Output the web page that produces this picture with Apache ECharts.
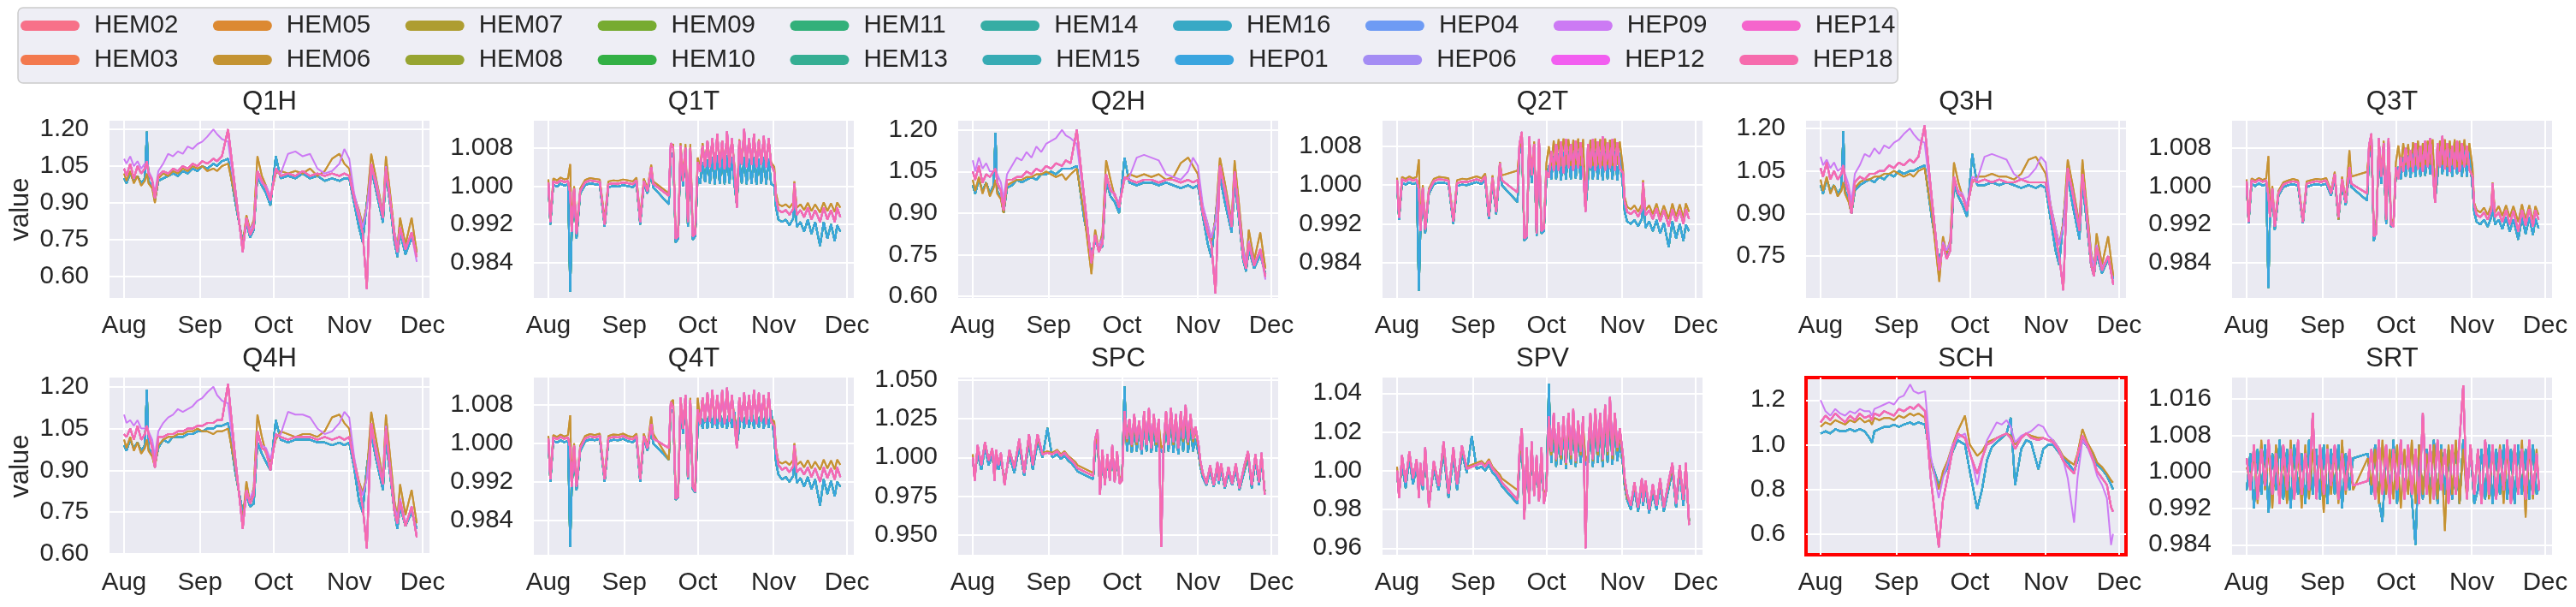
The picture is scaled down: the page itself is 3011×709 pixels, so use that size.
<!DOCTYPE html>
<html lang="en">
<head>
<meta charset="UTF-8" />
<title>Document</title>
<script src="https://cdn.jsdelivr.net/npm/echarts@6/dist/echarts.min.js"></script>
</head>
<body style="margin:0;background:#fff">
<div id="main" style="width:3011px;height:709px;"></div>
<script>
// ---- series names (legend order of the source) and their colours ----
var names = ['HEM02','HEM03','HEM05','HEM06','HEM07','HEM08','HEM09','HEM10','HEM11','HEM13',
             'HEM14','HEM15','HEM16','HEP01','HEP04','HEP06','HEP09','HEP12','HEP14','HEP18'];
var palette = ['#f77189','#f3794e','#dc8932','#c49332','#ae9d31','#97a431','#77ab31','#33b045','#33b07a','#35ae93',
               '#36ada4','#37abb4','#38a9c5','#3aa5df','#6e9bf4','#a48cf4','#cc7af4','#f25ef0','#f565cc','#f66bad'];

// which read-off trace each sensor follows (A pink bundle, B purple high, C blue low, D gold)
var traceA = ['HEM02','HEM03','HEP04','HEP06','HEP12','HEP14','HEP18'];
var traceB = ['HEP09'];
var traceC = ['HEM07','HEM08','HEM09','HEM10','HEM11','HEM13','HEM14','HEM15','HEM16','HEP01'];
var traceD = ['HEM05','HEM06'];

// x tick labels (days after 1 Aug)
var monthNames = ['Aug','Sep','Oct','Nov','Dec'];
var monthDays = [0, 31, 61, 92, 122];

// y tick labels
var hTicks = [0.6, 0.75, 0.9, 1.05, 1.2];
var tTicks = [0.984, 0.992, 1.0, 1.008];
var spcTicks = [0.95, 0.975, 1.0, 1.025, 1.05];
var spvTicks = [0.96, 0.98, 1.0, 1.02, 1.04];
var schTicks = [0.6, 0.8, 1.0, 1.2];
var srtTicks = [0.984, 0.992, 1.0, 1.008, 1.016];

// ---- sample days (days after 1 Aug) ----
var hDays = [0,1,2.5,4,5.5,7,8.5,9.3,10,11.5, 12.6,14,16,18,20,22,24,26,28,30,
  32,34,36.5,38,40,42.5,45.5,48.5,50,51.5, 53,54.5,56.3,58,59.8,62,64,67,70,73,
  76,79,82,85,88,90,92,94,96,97.5, 99.2,101,103,105.8,107,108.5,110.5,111.7,112.8,115,
  117.5,119.6];
var tDays = [0,0.8,2,3.5,5,6.5,8,8.9,9.5,10.5, 11.5,13,15,17,19,21,23,24.5,26.5,28.5,
  30.5,32.5,34.5,36,37.5,39,40.5,42,42.8,49.2, 50,51,52,53,54,55,56,57,58,59,
  60,61,62,63,64,65,66,67,68,69, 70,71,72,73,74,75,76,77,78,79,
  80,81,82,83,84,85,86,87,88,89, 90,91,92.3,93,94,95.5,97,98.5,100,100.5,
  101.5,103,104.5,106,107.5,109,111,112.5,114,115.5, 117,118,119.3];
var sDays = [0,2,4,6,8,10,12,14,16,18, 20,21,22,24,26,28,30,32,34,36.6,
  38,40,42.7,45,48.3,50,52,54,56,59, 61,64,66,68,70,72,74,76,77.7,79.5,
  82,84,86,89,91,93,95,97,99,101, 103.6,105,107,109,111.5,113,115,117,118.7,119.5];
var rDays = [0,1.5,3,4.5,6,7.5,9,10.5,12,13.5, 15,16.5,18,19.5,21,22.5,24,25.5,27,28.5,
  30,31.5,33,34.5,36,37.5,39,40.5,42,43.5,
  49.5,51,52.5,54,55.5,57,58.5,60,61.5,63, 64.5,66,67.5,69,70.5,72,73.5,75,76.5,78,
  79.5,81,82.5,84,85.5,87,88.5,90,91.5,93, 94.5,96,97.5,99,100.5,102,103.5,105,106.5,108,
  109.5,111,112.5,114,115.5,117,118.5,119.5];

// ---- Q1H ----
var q1hA = [1.04,1.01,1.06,1.00,1.05,1.02,1.04,1.07,1.02,0.99, 0.92,1.01,1.03,1.02,1.04,1.03,1.05,1.04,1.06,1.05,
  1.07,1.06,1.08,1.07,1.09,1.20,0.95,0.70,0.84,0.77, 0.80,1.03,0.99,0.96,0.91,1.04,1.01,1.02,1.01,1.03,
  1.01,1.02,1.01,1.02,1.01,1.02,1.01,0.92,0.84,0.78, 0.55,1.06,0.97,0.84,1.04,0.93,0.76,0.70,0.80,0.71, 0.78,0.68];
var q1hB = [1.08,1.06,1.09,1.05,1.07,1.04,1.06,1.05,1.03,1.00, 0.94,1.03,1.06,1.10,1.09,1.11,1.10,1.13,1.12,1.14,
  1.15,1.17,1.20,1.18,1.16,1.15,0.93,0.72,0.82,0.79, 0.82,1.02,0.98,0.97,0.93,1.03,1.02,1.10,1.11,1.09,
  1.10,1.04,1.02,1.03,1.06,1.12,1.08,0.94,0.86,0.80, 0.88,1.05,0.99,0.85,1.05,0.92,0.78,0.72,0.79,0.72, 0.77,0.66];
var q1hC = [1.00,0.98,1.02,0.99,1.01,0.98,1.00,1.19,0.99,0.97, 0.91,0.99,1.00,1.01,1.02,1.01,1.03,1.02,1.04,1.03,
  1.05,1.04,1.06,1.05,1.07,1.08,0.90,0.74,0.82,0.76, 0.79,1.01,0.97,0.94,0.89,1.09,1.00,1.01,1.00,1.02,
  1.00,1.01,0.99,1.00,0.99,1.00,1.00,0.90,0.80,0.74, 0.90,1.04,0.95,0.82,1.02,0.91,0.74,0.68,0.78,0.69, 0.76,0.70];
var q1hD = [1.02,0.99,1.03,0.98,1.01,0.97,0.99,1.02,0.98,0.96, 0.90,1.00,1.02,1.01,1.03,1.02,1.04,1.03,1.05,1.04,
  1.05,1.03,1.04,1.03,1.05,1.06,0.92,0.73,0.85,0.79, 0.83,1.09,1.01,0.97,0.92,1.02,1.03,1.02,1.03,1.02,
  1.04,1.01,1.03,1.08,1.10,1.06,1.04,0.93,0.87,0.81, 0.89,1.10,1.00,0.86,1.09,0.96,0.78,0.72,0.84,0.73, 0.84,0.70];

// ---- Q2H ----
var q2hA = [1.05,1.02,1.07,1.01,1.04,1.03,1.05,1.06,1.01,0.98, 0.91,1.02,1.02,1.03,1.03,1.05,1.04,1.06,1.05,1.07,
  1.06,1.08,1.07,1.09,1.08,1.20,0.96,0.72,0.82,0.76, 0.79,1.04,0.98,0.97,0.92,1.03,1.02,1.01,1.02,1.02,
  1.01,1.02,1.02,1.01,1.02,1.01,1.02,0.90,0.83,0.79, 0.61,1.07,0.98,0.85,1.05,0.92,0.74,0.70,0.79,0.71, 0.77,0.67];
var q2hB = [1.09,1.05,1.10,1.06,1.08,1.05,1.05,1.06,1.04,1.01, 0.95,1.04,1.07,1.10,1.09,1.12,1.10,1.14,1.12,1.15,
  1.16,1.17,1.20,1.18,1.17,1.15,0.94,0.73,0.81,0.78, 0.81,1.03,0.99,0.96,0.94,1.02,1.03,1.10,1.11,1.10,
  1.09,1.04,1.03,1.02,1.05,1.10,1.07,0.93,0.86,0.81, 0.87,1.06,0.99,0.86,1.04,0.93,0.77,0.72,0.80,0.72, 0.76,0.66];
var q2hC = [1.00,0.97,1.02,0.98,1.01,0.97,1.00,1.19,0.98,0.96, 0.90,0.99,1.00,1.02,1.01,1.02,1.03,1.02,1.04,1.04,
  1.05,1.04,1.06,1.06,1.06,1.07,0.88,0.75,0.80,0.77, 0.78,1.02,0.96,0.94,0.90,1.10,1.01,1.00,1.01,1.01,
  1.00,1.01,1.00,0.99,1.00,0.99,1.00,0.89,0.79,0.74, 0.89,1.03,0.94,0.83,1.01,0.90,0.73,0.69,0.77,0.70, 0.75,0.68];
var q2hD = [1.02,0.98,1.03,0.97,1.01,0.96,0.99,1.02,0.97,0.95, 0.90,1.00,1.01,1.02,1.02,1.03,1.03,1.04,1.04,1.05,
  1.04,1.03,1.04,1.02,1.04,1.06,0.90,0.68,0.84,0.77, 0.83,1.09,1.02,0.96,0.93,1.02,1.04,1.03,1.04,1.03,
  1.04,1.02,1.03,1.08,1.10,1.07,1.04,0.92,0.86,0.80, 0.88,1.10,1.01,0.87,1.09,0.96,0.78,0.71,0.84,0.73, 0.83,0.70];

// ---- Q3H ----
var q3hA = [1.06,1.03,1.08,1.02,1.05,1.02,1.04,1.07,1.02,0.97, 0.90,1.01,1.03,1.02,1.04,1.04,1.05,1.05,1.07,1.06,
  1.08,1.07,1.09,1.08,1.10,1.21,0.95,0.70,0.79,0.74, 0.77,1.03,0.97,0.96,0.91,1.02,1.01,1.02,1.01,1.02,
  1.01,1.01,1.02,1.01,1.01,1.01,1.01,0.91,0.82,0.75, 0.63,1.06,0.97,0.84,1.04,0.92,0.72,0.68,0.78,0.70, 0.75,0.65];
var q3hB = [1.10,1.07,1.09,1.06,1.08,1.05,1.06,1.07,1.04,1.00, 0.94,1.04,1.07,1.11,1.10,1.13,1.11,1.14,1.13,1.15,
  1.16,1.18,1.20,1.18,1.16,1.15,0.93,0.71,0.80,0.77, 0.80,1.02,0.98,0.97,0.93,1.03,1.02,1.10,1.11,1.10,
  1.09,1.04,1.02,1.03,1.06,1.10,1.08,0.93,0.85,0.79, 0.86,1.05,0.98,0.85,1.04,0.92,0.76,0.71,0.79,0.71, 0.75,0.66];
var q3hC = [1.00,0.97,1.02,0.98,1.00,0.97,0.99,1.19,0.98,0.95, 0.90,0.98,1.00,1.01,1.02,1.01,1.03,1.02,1.04,1.03,
  1.05,1.04,1.05,1.05,1.06,1.07,0.88,0.73,0.79,0.75, 0.77,1.00,0.96,0.93,0.89,1.11,1.00,1.00,1.01,1.00,
  1.01,1.00,0.99,1.00,0.99,1.00,0.99,0.88,0.77,0.72, 0.88,1.03,0.93,0.81,1.01,0.89,0.72,0.68,0.76,0.69, 0.74,0.67];
var q3hD = [1.02,0.98,1.03,0.97,1.00,0.96,0.98,1.01,0.97,0.94, 0.90,0.99,1.01,1.02,1.02,1.03,1.03,1.04,1.04,1.05,
  1.04,1.03,1.04,1.03,1.05,1.06,0.90,0.66,0.82,0.76, 0.81,1.08,1.01,0.96,0.92,1.01,1.03,1.03,1.04,1.03,
  1.03,1.02,1.04,1.09,1.10,1.07,1.04,0.93,0.85,0.79, 0.87,1.09,1.00,0.86,1.09,0.95,0.77,0.70,0.83,0.72, 0.82,0.68];

// ---- Q4H ----
var q4hA = [1.03,1.02,1.05,1.01,1.06,1.01,1.03,1.06,1.03,0.98, 0.91,1.02,1.02,1.03,1.03,1.04,1.04,1.05,1.05,1.06,
  1.06,1.07,1.07,1.08,1.08,1.21,0.94,0.69,0.83,0.78, 0.81,1.04,0.98,0.97,0.90,1.03,1.02,1.01,1.02,1.02,
  1.02,1.01,1.02,1.01,1.02,1.01,1.02,0.93,0.85,0.77, 0.62,1.07,0.96,0.85,1.05,0.92,0.75,0.71,0.79,0.70, 0.77,0.66];
var q4hB = [1.10,1.07,1.08,1.06,1.08,1.05,1.05,1.06,1.04,1.01, 0.95,1.04,1.07,1.09,1.10,1.12,1.11,1.12,1.13,1.15,
  1.16,1.18,1.20,1.17,1.15,1.14,0.92,0.71,0.81,0.80, 0.83,1.03,0.99,0.98,0.94,1.02,1.03,1.11,1.10,1.10,
  1.09,1.05,1.03,1.04,1.07,1.11,1.09,0.95,0.85,0.81, 0.87,1.04,0.98,0.86,1.06,0.93,0.77,0.73,0.80,0.71, 0.76,0.67];
var q4hC = [0.99,0.97,1.01,0.98,1.00,0.97,0.99,1.19,0.98,0.96, 0.92,0.98,1.01,1.00,1.02,1.02,1.02,1.03,1.03,1.04,
  1.04,1.05,1.05,1.06,1.06,1.07,0.89,0.75,0.81,0.77, 0.78,1.00,0.96,0.93,0.90,1.08,1.01,1.00,1.01,1.01,
  1.01,1.00,1.00,0.99,1.00,0.99,1.00,0.91,0.79,0.75, 0.91,1.03,0.94,0.83,1.01,0.90,0.75,0.69,0.77,0.70, 0.75,0.69];
var q4hD = [1.01,0.98,1.02,0.97,1.00,0.96,0.98,1.01,0.97,0.95, 0.91,0.99,1.01,1.02,1.02,1.03,1.03,1.04,1.04,1.05,
  1.04,1.04,1.03,1.04,1.04,1.05,0.91,0.72,0.86,0.78, 0.84,1.10,1.02,0.96,0.93,1.01,1.04,1.03,1.02,1.03,
  1.03,1.02,1.04,1.09,1.10,1.07,1.05,0.94,0.86,0.82, 0.88,1.11,1.01,0.87,1.10,0.97,0.79,0.73,0.85,0.74, 0.83,0.71];

// ---- Q1T ----
var q1tA = [1.0008,0.9925,1.0010,1.0006,1.0012,1.0008,1.0011,0.9985,0.9905,0.9995,
  0.9900,0.9990,1.0008,1.0012,1.0010,1.0009,0.9920,1.0004,1.0006,1.0005,
  1.0008,1.0006,1.0004,1.0012,0.9925,1.0010,0.9990,1.0040,1.0005,0.9980,
  1.0090,1.0080,0.9890,0.9895,1.0085,1.0010,1.0080,0.9925,1.0080,0.9895,
  0.9900,1.0050,1.0030,1.0085,1.0040,1.0095,1.0040,1.0100,1.0035,1.0110,
  1.0040,1.0095,1.0035,1.0115,1.0040,1.0100,1.0035,0.9955,1.0095,1.0045,
  1.0120,1.0040,1.0100,1.0045,1.0110,1.0040,1.0095,1.0045,1.0105,1.0040,
  1.0100,1.0045,1.0030,0.9975,0.9950,0.9945,0.9950,0.9940,0.9952,1.0005,
  0.9940,0.9950,0.9935,0.9955,0.9930,0.9950,0.9925,0.9955,0.9930,0.9950,
  0.9925,0.9955,0.9935];
var q1tC = [1.0000,0.9920,1.0003,0.9999,1.0005,1.0001,1.0004,0.9779,0.9895,0.9990,
  0.9890,0.9985,1.0002,1.0006,1.0004,1.0002,0.9915,0.9998,1.0000,0.9999,
  1.0002,1.0000,0.9998,1.0006,0.9920,1.0004,0.9985,1.0030,0.9998,0.9962,
  1.0060,1.0070,0.9882,0.9890,1.0070,1.0000,1.0065,0.9915,1.0070,0.9888,
  0.9895,1.0020,1.0005,1.0050,1.0008,1.0055,1.0006,1.0060,1.0004,1.0065,
  1.0005,1.0060,1.0004,1.0065,1.0006,1.0060,1.0004,0.9960,1.0055,1.0006,
  1.0060,1.0004,1.0058,1.0005,1.0060,1.0003,1.0058,1.0005,1.0060,1.0004,
  1.0058,1.0005,1.0000,0.9955,0.9930,0.9925,0.9930,0.9918,0.9932,0.9985,
  0.9915,0.9925,0.9905,0.9930,0.9900,0.9925,0.9875,0.9925,0.9890,0.9920,
  0.9885,0.9918,0.9905];
var q1tD = [1.0014,0.9930,1.0016,1.0012,1.0018,1.0014,1.0016,1.0046,0.9915,1.0000,
  0.9910,0.9995,1.0013,1.0017,1.0015,1.0014,0.9930,1.0010,1.0012,1.0011,
  1.0014,1.0012,1.0010,1.0018,0.9935,1.0016,0.9995,1.0045,1.0010,0.9985,
  1.0080,1.0088,0.9900,0.9905,1.0090,1.0020,1.0088,0.9935,1.0088,0.9905,
  0.9910,1.0060,1.0040,1.0090,1.0045,1.0095,1.0050,1.0095,1.0045,1.0100,
  1.0050,1.0095,1.0045,1.0100,1.0050,1.0098,1.0045,0.9965,1.0098,1.0050,
  1.0100,1.0045,1.0098,1.0050,1.0100,1.0045,1.0098,1.0050,1.0100,1.0045,
  1.0098,1.0050,1.0040,0.9985,0.9962,0.9958,0.9962,0.9955,0.9965,1.0010,
  0.9955,0.9962,0.9950,0.9965,0.9948,0.9962,0.9945,0.9966,0.9948,0.9964,
  0.9946,0.9966,0.9955];

// ---- Q2T ----
var q2tA = [1.0010,0.9933,1.0012,1.0008,1.0013,1.0009,1.0012,0.9990,0.9905,0.9995,
  0.9908,0.9988,1.0008,1.0012,1.0011,1.0009,0.9925,1.0004,1.0007,1.0006,
  1.0009,1.0012,1.0008,1.0018,0.9935,1.0015,0.9945,1.0045,1.0010,0.9985,
  1.0085,1.0110,0.9890,0.9895,1.0100,1.0020,1.0085,0.9900,1.0095,0.9905,
  0.9910,1.0030,1.0015,1.0070,1.0030,1.0085,1.0030,1.0090,1.0025,1.0095,
  1.0035,1.0085,1.0030,1.0092,1.0035,1.0088,1.0030,0.9945,1.0085,1.0035,
  1.0095,1.0030,1.0090,1.0035,1.0100,1.0030,1.0088,1.0035,1.0095,1.0030,
  1.0088,1.0035,1.0025,0.9965,0.9945,0.9940,0.9948,0.9935,0.9950,1.0005,
  0.9938,0.9948,0.9930,0.9952,0.9925,0.9948,0.9915,0.9950,0.9925,0.9948,
  0.9920,0.9950,0.9930];
var q2tC = [1.0002,0.9928,1.0005,1.0001,1.0006,1.0002,1.0005,0.9782,0.9898,0.9990,
  0.9900,0.9982,1.0002,1.0005,1.0005,1.0002,0.9920,0.9998,1.0001,1.0000,
  1.0003,1.0006,1.0002,1.0010,0.9930,1.0008,0.9940,1.0035,1.0000,0.9965,
  1.0065,1.0095,0.9885,0.9892,1.0085,1.0005,1.0072,0.9895,1.0080,0.9900,
  0.9905,1.0010,1.0040,1.0012,1.0060,1.0012,1.0065,1.0010,1.0068,1.0012,
  1.0070,1.0012,1.0066,1.0014,1.0070,1.0012,1.0068,0.9950,1.0012,1.0066,
  1.0012,1.0070,1.0012,1.0068,1.0010,1.0070,1.0012,1.0066,1.0012,1.0070,
  1.0010,1.0066,0.9995,0.9945,0.9925,0.9920,0.9928,0.9915,0.9930,0.9980,
  0.9912,0.9925,0.9905,0.9928,0.9900,0.9922,0.9872,0.9925,0.9890,0.9920,
  0.9885,0.9918,0.9905];
var q2tD = [1.0015,0.9938,1.0017,1.0013,1.0018,1.0014,1.0017,1.0053,0.9912,1.0000,
  0.9915,0.9993,1.0013,1.0017,1.0016,1.0014,0.9930,1.0010,1.0013,1.0012,
  1.0015,1.0018,1.0014,1.0024,0.9940,1.0020,0.9950,1.0048,1.0020,1.0030,
  1.0075,1.0100,0.9895,0.9900,1.0092,1.0030,1.0090,0.9910,1.0090,0.9912,
  0.9915,1.0045,1.0080,1.0040,1.0092,1.0042,1.0095,1.0040,1.0096,1.0042,
  1.0095,1.0040,1.0094,1.0042,1.0096,1.0040,1.0095,0.9960,1.0042,1.0094,
  1.0040,1.0096,1.0042,1.0095,1.0040,1.0096,1.0042,1.0094,1.0040,1.0096,
  1.0042,1.0090,1.0035,0.9975,0.9955,0.9950,0.9958,0.9945,0.9960,1.0010,
  0.9948,0.9958,0.9940,0.9962,0.9935,0.9958,0.9930,0.9962,0.9935,0.9960,
  0.9932,0.9962,0.9945];

// ---- Q3T ----
var q3tA = [1.0010,0.9925,1.0012,1.0008,1.0013,1.0009,1.0012,0.9980,0.9935,0.9995,
  0.9915,0.9985,1.0003,1.0008,1.0010,1.0008,0.9925,1.0005,1.0008,1.0010,
  1.0009,1.0012,0.9985,1.0025,0.9935,1.0015,0.9965,1.0040,1.0005,0.9985,
  1.0085,1.0110,0.9895,0.9900,1.0100,1.0020,1.0090,0.9930,1.0100,0.9920,
  0.9915,1.0040,1.0015,1.0060,1.0030,1.0080,1.0035,1.0075,1.0030,1.0090,
  1.0035,1.0085,1.0030,1.0095,1.0040,1.0100,1.0035,0.9965,1.0090,1.0040,
  1.0105,1.0035,1.0090,1.0030,1.0085,1.0035,1.0095,1.0030,1.0090,1.0040,
  1.0085,1.0035,1.0020,0.9960,0.9940,0.9935,0.9945,0.9930,0.9950,1.0005,
  0.9935,0.9945,0.9925,0.9950,0.9920,0.9948,0.9905,0.9950,0.9918,0.9952,
  0.9915,0.9950,0.9930];
var q3tC = [1.0002,0.9922,1.0005,1.0000,1.0006,1.0001,1.0004,0.9787,0.9925,0.9990,
  0.9908,0.9980,0.9998,1.0002,1.0004,1.0001,0.9922,0.9998,1.0002,1.0004,
  1.0002,1.0005,0.9980,1.0018,0.9930,1.0008,0.9960,1.0030,0.9998,0.9970,
  1.0060,1.0095,0.9885,0.9910,1.0085,1.0005,1.0075,0.9920,1.0090,0.9915,
  0.9920,1.0025,1.0040,1.0015,1.0060,1.0020,1.0065,1.0018,1.0070,1.0020,
  1.0075,1.0020,1.0080,1.0022,1.0075,1.0025,1.0080,0.9970,1.0020,1.0075,
  1.0025,1.0080,1.0022,1.0075,1.0020,1.0080,1.0025,1.0075,1.0020,1.0080,
  1.0020,1.0075,0.9995,0.9945,0.9925,0.9920,0.9930,0.9915,0.9935,0.9960,
  0.9920,0.9930,0.9910,0.9935,0.9905,0.9930,0.9888,0.9935,0.9900,0.9935,
  0.9898,0.9932,0.9912];
var q3tD = [1.0014,0.9930,1.0016,1.0012,1.0017,1.0013,1.0016,1.0063,0.9945,1.0000,
  0.9925,0.9990,1.0008,1.0012,1.0015,1.0012,0.9930,1.0010,1.0013,1.0015,
  1.0014,1.0017,0.9990,1.0030,0.9930,1.0020,0.9970,1.0075,1.0020,1.0030,
  1.0070,1.0100,0.9905,0.9920,1.0095,1.0030,1.0095,0.9940,1.0095,0.9930,
  0.9925,1.0050,1.0085,1.0040,1.0090,1.0045,1.0088,1.0040,1.0092,1.0045,
  1.0095,1.0040,1.0090,1.0045,1.0095,1.0045,1.0098,0.9975,1.0045,1.0095,
  1.0045,1.0098,1.0040,1.0095,1.0045,1.0098,1.0040,1.0095,1.0045,1.0098,
  1.0045,1.0090,1.0040,0.9965,0.9950,0.9945,0.9955,0.9940,0.9960,1.0008,
  0.9945,0.9958,0.9938,0.9960,0.9935,0.9958,0.9925,0.9962,0.9930,0.9960,
  0.9928,0.9958,0.9940];

// ---- Q4T ----
var q4tA = [1.0010,0.9925,1.0012,1.0008,1.0013,1.0009,1.0012,0.9990,0.9910,0.9995,
  0.9910,0.9990,1.0010,1.0014,1.0012,1.0015,0.9925,1.0010,1.0013,1.0012,
  1.0015,1.0010,1.0008,1.0015,0.9925,1.0015,0.9990,1.0040,1.0010,0.9990,
  1.0085,1.0075,0.9885,0.9890,1.0095,1.0030,1.0100,0.9930,1.0090,0.9910,
  0.9900,1.0070,1.0040,1.0095,1.0045,1.0105,1.0045,1.0110,1.0040,1.0100,
  1.0045,1.0110,1.0040,1.0115,1.0045,1.0100,1.0040,0.9990,1.0095,1.0045,
  1.0105,1.0040,1.0100,1.0045,1.0110,1.0040,1.0105,1.0045,1.0100,1.0040,
  1.0105,1.0045,1.0035,0.9985,0.9955,0.9945,0.9950,0.9940,0.9952,0.9995,
  0.9940,0.9948,0.9935,0.9950,0.9930,0.9948,0.9920,0.9950,0.9928,0.9948,
  0.9925,0.9950,0.9930];
var q4tC = [1.0002,0.9920,1.0005,1.0001,1.0006,1.0002,1.0005,0.9785,0.9900,0.9990,
  0.9902,0.9984,1.0004,1.0008,1.0006,1.0009,0.9920,1.0004,1.0007,1.0006,
  1.0009,1.0004,1.0002,1.0009,0.9920,1.0009,0.9985,1.0030,1.0000,0.9966,
  1.0070,1.0065,0.9883,0.9888,1.0080,1.0020,1.0085,0.9925,1.0080,0.9905,
  0.9898,1.0030,1.0060,1.0030,1.0065,1.0030,1.0068,1.0032,1.0065,1.0030,
  1.0068,1.0032,1.0065,1.0030,1.0068,1.0032,1.0065,0.9995,1.0032,1.0068,
  1.0030,1.0065,1.0032,1.0068,1.0030,1.0065,1.0032,1.0068,1.0030,1.0065,
  1.0032,1.0068,1.0010,0.9960,0.9935,0.9925,0.9930,0.9920,0.9932,0.9975,
  0.9918,0.9928,0.9910,0.9930,0.9905,0.9925,0.9871,0.9925,0.9895,0.9922,
  0.9890,0.9920,0.9910];
var q4tD = [1.0015,0.9930,1.0017,1.0013,1.0018,1.0014,1.0017,1.0058,0.9915,1.0000,
  0.9915,0.9995,1.0015,1.0019,1.0017,1.0020,0.9930,1.0015,1.0018,1.0017,
  1.0020,1.0015,1.0013,1.0020,0.9930,1.0020,0.9995,1.0055,1.0020,0.9966,
  1.0085,1.0090,0.9895,0.9900,1.0094,1.0040,1.0094,0.9940,1.0094,0.9915,
  0.9910,1.0094,1.0050,1.0094,1.0055,1.0094,1.0050,1.0094,1.0055,1.0094,
  1.0050,1.0094,1.0055,1.0094,1.0050,1.0094,1.0055,0.9995,1.0094,1.0050,
  1.0094,1.0055,1.0094,1.0050,1.0094,1.0055,1.0094,1.0050,1.0094,1.0055,
  1.0094,1.0050,1.0045,0.9990,0.9962,0.9958,0.9962,0.9955,0.9965,1.0000,
  0.9955,0.9962,0.9950,0.9965,0.9948,0.9962,0.9945,0.9966,0.9948,0.9964,
  0.9946,0.9966,0.9955];

// ---- SPC ----
var spcA = [1.000,0.985,1.008,0.995,1.010,0.998,1.006,0.985,1.005,0.995,
  1.003,0.982,1.005,0.993,1.012,0.990,1.015,0.995,1.015,1.002,
  1.003,1.002,1.004,1.001,1.003,1.000,0.998,0.995,0.993,0.988,
  1.012,1.018,0.976,1.005,0.982,1.002,0.985,1.008,0.984,1.004,
  0.983,0.985,1.030,1.012,1.025,1.008,1.028,1.010,1.024,1.005,
  1.030,1.008,1.032,1.006,1.028,1.010,1.025,0.942,1.010,1.030,
  1.008,1.032,1.010,1.028,1.006,1.030,1.012,1.034,1.010,1.028,
  1.012,1.020,1.008,0.998,0.990,0.983,0.995,0.982,0.997,0.985,
  0.996,0.981,0.994,0.983,0.996,0.980,0.995,1.004,0.982,1.002,
  0.984,1.003,0.976];
var spcC = [0.998,0.988,1.003,0.992,1.006,0.995,1.002,0.988,1.000,0.992,
  0.999,0.985,1.001,0.990,1.007,0.988,1.010,0.992,1.010,1.000,
  1.019,1.000,1.002,0.999,1.001,0.998,0.996,0.993,0.991,0.986,
  1.005,1.012,0.978,1.000,0.984,0.998,0.986,1.003,0.985,1.000,
  0.984,0.986,1.046,1.004,1.018,1.003,1.020,1.004,1.018,1.002,
  1.022,1.004,1.024,1.003,1.020,1.004,1.018,1.004,1.003,1.022,
  1.004,1.024,1.003,1.020,1.002,1.022,1.004,1.025,1.003,1.020,
  1.004,1.012,1.002,0.994,0.987,0.982,0.991,0.981,0.993,0.983,
  0.992,0.980,0.990,0.982,0.992,0.979,0.991,1.000,0.980,0.998,
  0.982,0.999,0.978];
var spcD = [1.002,0.987,1.006,0.997,1.008,1.000,1.004,0.987,1.003,0.997,
  1.001,0.984,1.003,0.995,1.010,0.992,1.012,0.997,1.012,1.003,
  1.004,1.003,1.005,1.002,1.004,1.001,0.999,0.997,0.995,0.990,
  1.008,1.015,0.980,1.003,0.985,1.000,0.988,1.005,0.987,1.002,
  0.986,0.988,1.025,1.010,1.022,1.007,1.024,1.008,1.022,1.006,
  1.026,1.008,1.028,1.006,1.025,1.008,1.022,1.006,1.008,1.026,
  1.008,1.028,1.008,1.025,1.006,1.026,1.010,1.030,1.008,1.025,
  1.010,1.018,1.006,0.996,0.989,0.985,0.993,0.984,0.995,0.986,
  0.994,0.983,0.992,0.985,0.994,0.982,0.993,1.002,0.984,1.000,
  0.986,1.001,0.978];

// ---- SPV ----
var spvA = [1.000,0.986,1.008,0.994,1.010,0.996,1.006,0.986,1.004,0.992,
  1.012,0.981,1.005,0.992,1.015,0.988,1.012,0.993,1.013,1.001,
  1.002,1.003,1.004,1.002,1.005,1.001,0.999,0.996,0.994,0.985,
  1.010,1.022,0.975,1.012,0.983,1.015,0.987,1.008,0.984,1.012,
  0.983,0.990,1.028,1.010,1.030,1.006,1.025,1.008,1.028,1.004,
  1.030,1.008,1.032,1.005,1.026,1.010,1.028,0.960,1.010,1.030,
  1.006,1.032,1.010,1.030,1.006,1.034,1.010,1.038,1.008,1.030,
  1.012,1.022,1.008,0.996,0.988,0.982,0.994,0.981,0.996,0.984,
  0.995,0.980,0.993,0.982,0.996,0.981,0.995,1.004,0.983,1.003,
  0.985,1.004,0.972];
var spvC = [0.998,0.988,1.004,0.991,1.006,0.993,1.002,0.989,1.000,0.990,
  1.008,0.983,1.001,0.990,1.010,0.986,1.008,0.990,1.009,0.999,
  1.018,1.001,1.002,1.000,1.003,0.999,0.997,0.994,0.992,0.983,
  1.004,1.015,0.977,1.006,0.985,1.009,0.988,1.003,0.985,1.006,
  0.984,0.991,1.045,1.004,1.022,1.002,1.018,1.003,1.020,1.001,
  1.022,1.003,1.024,1.002,1.019,1.004,1.020,1.003,1.004,1.022,
  1.002,1.024,1.004,1.022,1.002,1.025,1.004,1.028,1.003,1.022,
  1.005,1.014,1.003,0.992,0.985,0.980,0.990,0.979,0.992,0.982,
  0.991,0.978,0.989,0.980,0.992,0.979,0.991,1.000,0.981,0.999,
  0.982,1.000,0.974];
var spvD = [1.002,0.987,1.006,0.996,1.008,0.998,1.004,0.988,1.002,0.994,
  1.010,0.983,1.003,0.994,1.012,0.990,1.010,0.995,1.011,1.002,
  1.003,1.004,1.005,1.003,1.006,1.002,1.000,0.998,0.996,0.990,
  1.007,1.018,0.980,1.009,0.986,1.012,0.989,1.006,0.986,1.009,
  0.985,0.992,1.022,1.008,1.026,1.005,1.022,1.006,1.025,1.003,
  1.026,1.006,1.028,1.004,1.023,1.008,1.025,1.005,1.008,1.026,
  1.005,1.028,1.008,1.026,1.005,1.030,1.008,1.033,1.006,1.026,
  1.010,1.018,1.006,0.994,0.986,0.983,0.992,0.982,0.994,0.985,
  0.993,0.981,0.991,0.983,0.994,0.982,0.993,1.002,0.984,1.001,
  0.986,1.002,0.974];

// ---- SCH ----
var schA = [1.10,1.13,1.11,1.14,1.12,1.10,1.13,1.11,1.14,1.12, 1.13,1.11,1.14,1.13,1.15,1.14,1.13,1.16,1.15,1.17,
  1.16,1.18,1.15,0.85,0.54,0.75,0.86,0.98,1.05,1.03, 0.96,0.87,0.94,1.00,1.01,1.03,1.04,1.05,1.03,0.98,
  1.03,1.05,1.03,1.02,1.03,1.02,1.01,0.98,0.93,0.90, 0.87,0.95,1.04,1.00,0.93,0.88,0.85,0.82,0.72,0.70];
var schB = [1.20,1.15,1.13,1.16,1.14,1.13,1.15,1.14,1.16,1.15, 1.15,1.13,1.16,1.17,1.18,1.19,1.18,1.21,1.22,1.27,
  1.24,1.23,1.24,0.95,0.76,0.85,0.92,1.00,1.03,1.05, 0.97,0.82,0.93,1.02,1.06,1.10,1.09,1.11,1.08,1.01,
  1.04,1.05,1.06,1.09,1.08,1.04,1.02,0.99,0.94,0.85, 0.65,0.85,1.02,0.99,0.92,0.86,0.82,0.76,0.55,0.60];
var schC = [1.05,1.06,1.05,1.07,1.06,1.06,1.07,1.06,1.07,1.06, 1.03,1.01,1.06,1.07,1.08,1.08,1.09,1.08,1.09,1.10,
  1.09,1.10,1.09,0.93,0.82,0.86,0.90,0.97,1.02,1.00, 0.88,0.71,0.80,0.93,0.99,1.01,1.03,1.05,1.12,0.82,
  0.98,1.02,1.01,0.89,0.98,1.00,1.00,0.97,0.94,0.92, 0.88,0.93,1.02,0.99,0.95,0.91,0.89,0.86,0.82,0.80];
var schD = [1.08,1.10,1.09,1.11,1.10,1.09,1.11,1.10,1.12,1.10, 1.11,1.09,1.12,1.11,1.12,1.12,1.11,1.13,1.12,1.14,
  1.13,1.14,1.12,0.92,0.80,0.88,0.93,1.00,1.06,1.13, 1.00,0.95,0.97,1.01,1.02,1.03,1.04,1.05,1.04,1.00,
  1.03,1.05,1.04,1.03,1.03,1.02,1.02,0.99,0.95,0.93, 0.91,0.96,1.07,1.01,0.96,0.92,0.90,0.87,0.84,0.83];

// ---- SRT ----
var srtA = [1.003,0.996,1.006,0.994,1.005,0.997,1.007,0.995,1.004,0.993,
  1.006,0.996,1.005,0.994,1.007,0.995,1.004,0.996,1.013,0.994,
  1.006,0.995,1.005,0.997,1.006,0.994,1.004,0.996,1.005,0.997,
  0.998,1.005,0.994,1.007,0.995,1.006,0.993,1.005,0.996,1.007,
  0.994,1.006,0.995,1.005,0.993,1.013,0.995,1.006,0.994,1.007,
  0.996,1.005,0.993,1.006,0.995,1.007,1.019,0.994,1.006,0.995,
  1.005,0.993,1.007,0.995,1.006,0.994,1.005,0.996,1.007,0.993,
  1.006,0.995,1.005,0.994,1.007,0.995,1.004,0.996];
var srtC = [0.996,1.004,0.992,1.005,0.995,1.006,0.991,1.004,0.996,1.007,
  0.994,1.005,0.992,1.006,0.995,1.004,0.993,1.007,0.995,1.005,
  0.994,1.006,0.993,1.005,0.995,1.006,0.992,1.004,0.996,1.003,
  1.004,0.995,1.006,0.994,0.989,1.005,0.995,1.007,0.993,1.006,
  0.995,1.005,0.994,0.984,1.006,0.994,1.005,0.995,1.007,0.993,
  1.006,0.995,1.005,0.994,1.006,0.993,1.007,0.995,1.005,0.993,
  0.996,1.005,0.994,1.006,0.993,1.005,0.995,1.006,0.994,1.005,
  0.993,1.006,0.995,1.005,0.994,1.006,0.995,0.997];
var srtD = [1.001,0.998,1.004,0.993,1.007,0.996,1.005,0.992,1.006,0.995,
  1.004,0.993,1.007,0.995,1.005,0.992,1.006,0.994,1.005,0.996,
  1.004,0.991,1.006,0.995,1.005,0.993,1.007,0.995,1.004,0.996,
  1.003,0.997,1.005,0.993,1.007,0.995,1.005,0.994,1.006,0.992,
  1.005,0.995,1.007,0.993,1.006,0.995,1.004,0.993,1.006,0.994,
  1.005,0.987,1.006,0.995,1.007,0.993,1.005,0.994,1.006,0.995,
  1.004,0.993,1.007,0.994,1.005,0.995,1.006,0.993,1.005,0.994,
  1.006,0.995,1.007,0.990,1.006,0.994,1.005,0.996];

// ---- panel table built from the arrays above ----
var panels = [
  {title:'Q1H', days:hDays, A:q1hA, B:q1hB, C:q1hC, D:q1hD, min:0.513, max:1.235, ticks:hTicks, dec:2},
  {title:'Q1T', days:tDays, A:q1tA, C:q1tC, D:q1tD, min:0.9766, max:1.0137, ticks:tTicks, dec:3},
  {title:'Q2H', days:hDays, A:q2hA, B:q2hB, C:q2hC, D:q2hD, min:0.594, max:1.233, ticks:hTicks, dec:2},
  {title:'Q2T', days:tDays, A:q2tA, C:q2tC, D:q2tD, min:0.9767, max:1.0133, ticks:tTicks, dec:3},
  {title:'Q3H', days:hDays, A:q3hA, B:q3hB, C:q3hC, D:q3hD, min:0.603, max:1.227, ticks:hTicks, dec:2},
  {title:'Q3T', days:tDays, A:q3tA, C:q3tC, D:q3tD, min:0.9766, max:1.0137, ticks:tTicks, dec:3},
  {title:'Q4H', days:hDays, A:q4hA, B:q4hB, C:q4hC, D:q4hD, min:0.597, max:1.233, ticks:hTicks, dec:2},
  {title:'Q4T', days:tDays, A:q4tA, C:q4tC, D:q4tD, min:0.9769, max:1.0136, ticks:tTicks, dec:3},
  {title:'SPC', days:tDays, A:spcA, C:spcC, D:spcD, min:0.937, max:1.0517, ticks:spcTicks, dec:3},
  {title:'SPV', days:tDays, A:spvA, C:spvC, D:spvD, min:0.9566, max:1.0481, ticks:spvTicks, dec:2},
  {title:'SCH', days:sDays, A:schA, B:schB, C:schC, D:schD, min:0.506, max:1.301, ticks:schTicks, dec:1, framed:true},
  {title:'SRT', days:rDays, A:srtA, C:srtC, D:srtD, min:0.9818, max:1.0207, ticks:srtTicks, dec:3}
];

var font = "'Liberation Sans', Arial, sans-serif";
var ink = '#262626';
var colLeft = [128, 624, 1120, 1616, 2111, 2609];
var rowTop = [141, 441];
var plotW = 374, plotH = 207;

var drawOrder = traceC.concat(traceD, traceB, traceA);
function traceOf(name) {
  if (traceA.indexOf(name) >= 0) return 'A';
  if (traceB.indexOf(name) >= 0) return 'B';
  if (traceC.indexOf(name) >= 0) return 'C';
  return 'D';
}

var grids = [], xAxes = [], yAxes = [], titles = [], series = [];
panels.forEach(function (p, i) {
  var left = colLeft[i % 6], top = rowTop[Math.floor(i / 6)];
  grids.push({
    left: left, top: top, width: plotW, height: plotH, show: true,
    backgroundColor: '#EAEAF2',
    borderWidth: p.framed ? 4 : 0, borderColor: p.framed ? '#ff0000' : 'transparent'
  });
  titles.push({
    text: p.title, left: left + plotW / 2, top: top - 37, textAlign: 'center', padding: 0,
    textStyle: {fontSize: 31, fontWeight: 'normal', color: ink, fontFamily: font}
  });
  xAxes.push({
    type: 'value', gridIndex: i, min: -5.95, max: 124.8,
    axisLine: {show: false},
    axisTick: {show: false, customValues: monthDays},
    axisLabel: {
      customValues: monthDays, fontSize: 29.5, color: ink, fontFamily: font, margin: 18,
      formatter: function (v) { return monthNames[monthDays.indexOf(v)] || ''; }
    },
    splitLine: {show: true, lineStyle: {color: '#ffffff', width: 2}}
  });
  var yAx = {
    type: 'value', gridIndex: i, min: p.min, max: p.max,
    axisLine: {show: false},
    axisTick: {show: false, customValues: p.ticks},
    axisLabel: {
      customValues: p.ticks, fontSize: 29.5, color: ink, fontFamily: font, margin: 24,
      formatter: (function (dec) { return function (v) { return v.toFixed(dec); }; })(p.dec)
    },
    splitLine: {show: true, lineStyle: {color: '#ffffff', width: 2}}
  };
  if (i % 6 === 0) {
    yAx.name = 'value';
    yAx.nameLocation = 'middle';
    yAx.nameGap = 88;
    yAx.nameTextStyle = {fontSize: 31, color: ink, fontFamily: font};
  }
  yAxes.push(yAx);

  drawOrder.forEach(function (name) {
    var k = names.indexOf(name);
    var vals = p[traceOf(name)] || p.A;
    series.push({
      type: 'line', name: name, xAxisIndex: i, yAxisIndex: i,
      data: p.days.map(function (d, j) { return [d, vals[j]]; }),
      showSymbol: false, symbol: 'none', silent: true,
      lineStyle: {width: 2, color: palette[k]},
      itemStyle: {color: palette[k]}
    });
  });
});

// legend: 10 columns, filled column by column as in the source
var legendRow1 = [], legendRow2 = [];
for (var c = 0; c < 10; c++) {
  legendRow1.push(names[c * 2]);
  legendRow2.push(names[c * 2 + 1]);
}
var legendBase = {
  left: 21, orient: 'horizontal',
  itemGap: 40.5, itemWidth: 69, itemHeight: 12,
  icon: 'path://M6,0H63A6,6 0 0 1 63,12H6A6,6 0 0 1 6,0Z',
  textStyle: {fontSize: 29.5, color: ink, fontFamily: font, width: 100, overflow: 'none', padding: [0, 0, 0, 12]},
  selectedMode: false
};

var myChart = echarts.init(document.getElementById('main'));
myChart.setOption({
  animation: false,
  textStyle: {fontFamily: font},
  title: titles,
  legend: [
    Object.assign({}, legendBase, {
      data: legendRow1, top: 9, padding: [6, 3, 52, 3],
      backgroundColor: 'rgba(234,234,242,0.8)',
      borderColor: '#cccccc', borderWidth: 1.5, borderRadius: 6
    }),
    Object.assign({}, legendBase, {
      data: legendRow2, top: 49, padding: [6, 3, 12, 3]
    })
  ],
  grid: grids,
  xAxis: xAxes,
  yAxis: yAxes,
  series: series
});
</script>
</body>
</html>
